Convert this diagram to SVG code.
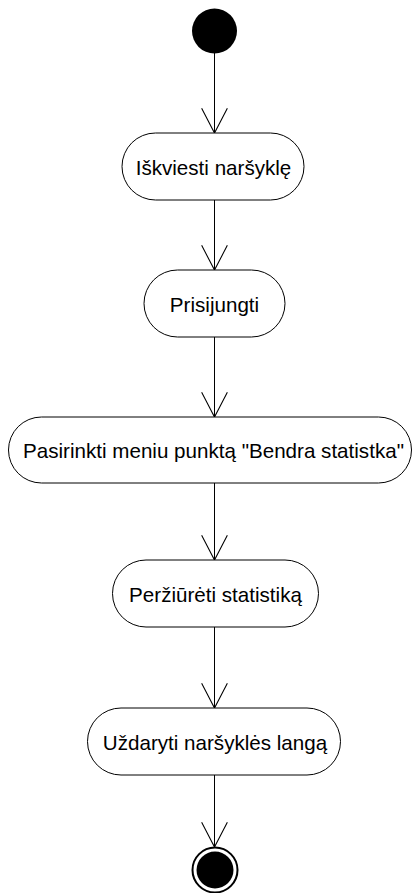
<svg xmlns="http://www.w3.org/2000/svg" width="413" height="893" viewBox="0 0 413 893">
  <defs>
    <style>
      .action { fill: #ffffff; stroke: #000000; stroke-width: 1; }
      .label { font-family: "Liberation Sans", Arial, sans-serif; font-size: 20.6px; fill: #000000; text-anchor: middle; }
      .flow { stroke: #000000; stroke-width: 1; fill: none; marker-end: url(#open-arrow); }
    </style>
    <marker id="open-arrow" markerUnits="userSpaceOnUse" markerWidth="30" markerHeight="30" viewBox="-25 -14 27 28" refX="0" refY="0" orient="auto" overflow="visible">
      <path d="M-23,-12 L0,0 L-23,12" fill="none" stroke="#000000" stroke-width="1"/>
    </marker>
  </defs>
  <rect width="413" height="893" fill="#ffffff"/>

  <!-- control flows -->
  <g id="flows">
    <line class="flow" x1="214.5" y1="53" x2="214.5" y2="133"/>
    <line class="flow" x1="214.5" y1="200" x2="214.5" y2="270"/>
    <line class="flow" x1="214.5" y1="337" x2="214.5" y2="417"/>
    <line class="flow" x1="214.5" y1="483" x2="214.5" y2="560"/>
    <line class="flow" x1="214.5" y1="627" x2="214.5" y2="708"/>
    <line class="flow" x1="214.5" y1="775" x2="214.5" y2="847"/>
  </g>

  <g id="start">
    <circle cx="214.5" cy="31" r="22.5" fill="#000000"/>
  </g>

  <g id="launch-browser">
    <rect class="action" x="122" y="133" width="182" height="67" rx="33.5" ry="33.5"/>
    <text class="label" x="213.5" y="175">Iškviesti naršyklę</text>
  </g>

  <g id="log-in">
    <rect class="action" x="144" y="270" width="141" height="67" rx="33.5" ry="33.5"/>
    <text class="label" x="214.5" y="312">Prisijungti</text>
  </g>

  <g id="select-menu">
    <rect class="action" x="8.5" y="417" width="403" height="66" rx="33" ry="33"/>
    <text class="label" x="213.5" y="458">Pasirinkti meniu punktą "Bendra statistka"</text>
  </g>

  <g id="view-stats">
    <rect class="action" x="112.5" y="560" width="206" height="67" rx="33.5" ry="33.5"/>
    <text class="label" x="215.5" y="601.5">Peržiūrėti statistiką</text>
  </g>

  <g id="close-browser">
    <rect class="action" x="87.5" y="708" width="253" height="67" rx="33.5" ry="33.5"/>
    <text class="label" x="215" y="749.5">Uždaryti naršyklės langą</text>
  </g>

  <g id="end">
    <circle cx="215" cy="870" r="22.5" fill="#ffffff" stroke="#000000" stroke-width="2"/>
    <circle cx="215" cy="870" r="18.5" fill="#000000"/>
  </g>
</svg>
